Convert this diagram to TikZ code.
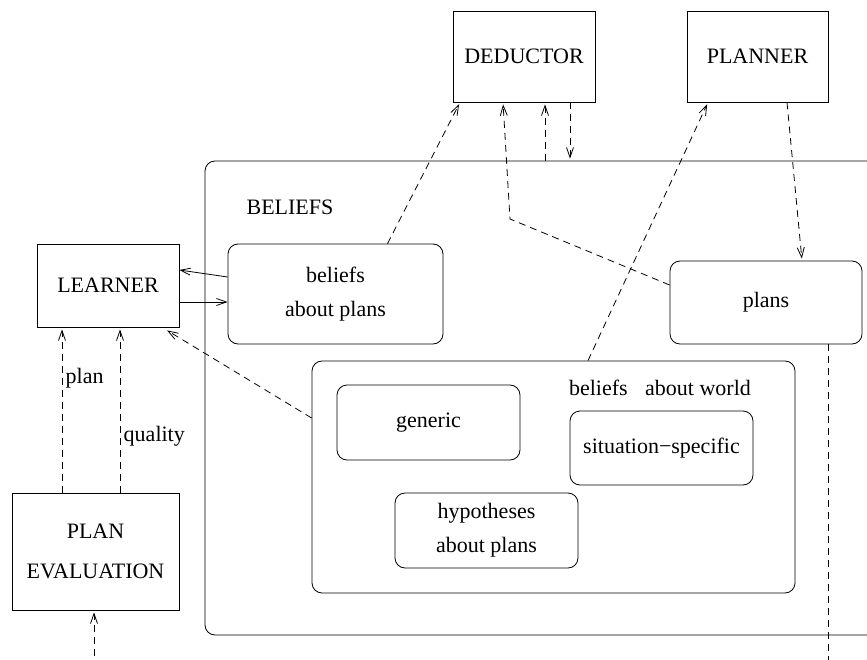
\documentclass[tikz,border=0pt]{standalone}
\usepackage{fontspec}
\setmainfont{Liberation Serif}
\usetikzlibrary{arrows.meta}
\begin{document}
\begin{tikzpicture}[x=1pt,y=-1pt,
  box/.style={draw,rectangle,line width=0.8pt,align=center,inner sep=0pt},
  rbox/.style={box,rounded corners=10pt},
  dashline/.style={dash pattern=on 7pt off 5pt,line width=0.8pt},
  >={Straight Barb[length=10pt,width=7pt]},
  font=\fontsize{22}{34}\selectfont]
\clip (0,0) rectangle (867,660);
% agents
\node(deductor) at (524,56.5)[box,minimum width=142pt,minimum height=91pt] {DEDUCTOR};
\node(planner) at (757.5,56.5)[box,minimum width=141pt,minimum height=91pt] {PLANNER};
\node(learner) at (108,285.5)[box,minimum width=142pt,minimum height=83pt] {LEARNER};
\node(eval) at (95.5,551.5)[box,minimum width=167pt,minimum height=117pt] {PLAN\\[6pt]EVALUATION};
% belief store
\node(beliefs) at (552.5,398)[rbox,minimum width=695pt,minimum height=474pt] {};
\node(beliefslabel) at (290,207) {BELIEFS};
\node(bap) at (335.5,294)[rbox,minimum width=215pt,minimum height=100pt] {beliefs\\about plans};
\node(plans) at (766,302.5)[rbox,minimum width=192pt,minimum height=83pt] {plans};
\node(world) at (553.5,477)[rbox,minimum width=483pt,minimum height=232pt] {};
\node(worldlabel) at (660,388) {beliefs\hspace{12pt} about world};
\node(generic) at (428.5,422.5)[rbox,minimum width=183pt,minimum height=75pt] {generic};
\node(specific) at (661.5,448)[rbox,minimum width=183pt,minimum height=74pt] {situation−specific};
\node(hypo) at (486.5,530.5)[rbox,minimum width=183pt,minimum height=75pt] {hypotheses\\about plans};
% free ends
\coordinate(bend) at (510,219);
\coordinate(planstail) at (828,680);
\coordinate(evaltail) at (94,680);
\path [dashline,->,shorten >=2pt]
  ([xshift=52pt]bap.north)        edge  ([xshift=-64pt]deductor.south)
  ([xshift=-7.5pt]beliefs.north)  edge  ([xshift=21pt]deductor.south)
  ([xshift=46pt]deductor.south)   edge  ([xshift=17.5pt]beliefs.north)
  ([xshift=34.5pt]world.north)    edge  ([xshift=-49.5pt]planner.south)
  ([xshift=29.5pt]planner.south)  edge  ([xshift=36pt]plans.north)
  ([yshift=59pt]world.west)       edge  ([xshift=-14pt,yshift=-2pt]learner.south east)
  ([xshift=-33.5pt]eval.north)    edge  node[right,pos=0.69] {plan} ([xshift=-46pt]learner.south)
  ([xshift=24.5pt]eval.north)     edge  node[right,pos=0.34] {quality} ([xshift=12pt]learner.south)
  (evaltail)                      edge  ([xshift=-1.5pt]eval.south);
\draw [dashline,->,shorten >=2pt] ([yshift=17.5pt]plans.west) -- (bend) -- ([xshift=-21pt]deductor.south);
\draw [dashline] ([xshift=62pt]plans.south) -- (planstail);
\path [line width=0.8pt,->]
  ([yshift=17pt]bap.west)          edge  ([yshift=15.5pt]learner.east)
  ([yshift=-16.5pt]learner.east)   edge  ([yshift=-8pt]bap.west);
\end{tikzpicture}
\end{document}
